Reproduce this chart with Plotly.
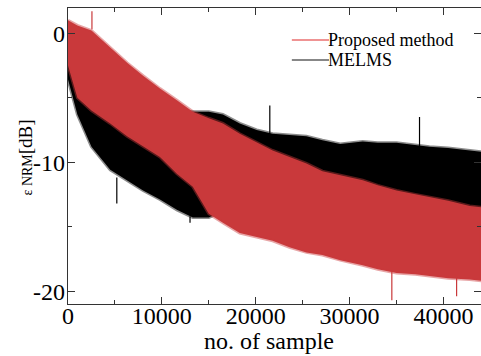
import plotly.graph_objects as go

# ---- data (envelopes of the noisy learning curves, dB) ----
samples = [0, 1000, 2500, 4500, 6300, 8000, 9800, 11600, 13300, 15000, 16500, 18300,
           20100, 21800, 23600, 25400, 27100, 29000, 31400, 33000, 35000, 37000,
           38500, 40500, 42800, 44000]

proposed_upper = [1.0, 0.6, 0.2, -1.1, -2.3, -3.3, -4.3, -5.2, -6.1, -6.6, -7.0, -7.8,
                  -8.5, -9.1, -9.6, -10.1, -10.7, -11.0, -11.4, -11.8, -12.2, -12.5,
                  -12.7, -13.0, -13.4, -13.5]
proposed_lower = [-2.5, -5.0, -6.0, -7.0, -8.0, -8.8, -9.6, -10.9, -11.9, -14.0, -14.7, -15.5,
                  -15.8, -16.1, -16.6, -17.0, -17.2, -17.6, -18.0, -18.3, -18.6, -18.7,
                  -18.8, -19.0, -19.1, -19.2]

melms_upper = [0.0, -2.0, -3.5, -4.8, -5.4, -5.7, -5.9, -6.0, -6.1, -6.1, -6.3, -7.0,
               -7.5, -7.8, -7.9, -8.0, -8.3, -8.6, -8.4, -8.5, -8.5, -8.7,
               -8.8, -8.9, -9.1, -9.2]
melms_lower = [-3.6, -6.3, -8.8, -10.6, -11.4, -12.2, -12.9, -13.7, -14.3, -14.3, -13.8, -13.8,
               -13.8, -13.8, -13.8, -13.8, -13.8, -13.8, -13.8, -13.8, -13.8, -13.8,
               -13.8, -13.8, -13.8, -13.8]

# isolated noise peaks that stand out of the bands (sample, peak dB, band edge dB)
melms_peak_x = [21500, 37450, 5200, 13000]
melms_peak_y = [-5.6, -6.5, -13.2, -14.7]
melms_peak_base = [-7.8, -8.8, -11.2, -14.2]

proposed_peak_x = [2550, 34500, 41400]
proposed_peak_y = [1.7, -20.7, -20.4]
proposed_peak_base = [0.3, -18.5, -18.9]

series_names = ["Proposed method", "MELMS"]

x_tickvals = [0, 10000, 20000, 30000, 40000]
x_ticktext = ["0", "10000", "20000", "30000", "40000"]
y_tickvals = [0, -10, -20]
y_ticktext = ["0", "-10", "-20"]

RED = "#c9393b"
RED_FRINGE = "rgba(201,57,59,0.45)"
BLACK = "#000000"
BLACK_FRINGE = "rgba(0,0,0,0.45)"
FONT = "Liberation Serif"

fig = go.Figure()


def band(xs, up, lo, color, fringe):
    return go.Scatter(
        x=list(xs) + list(xs[::-1]),
        y=list(up) + list(lo[::-1]),
        fill="toself", fillcolor=color, mode="lines",
        line=dict(width=3, color=fringe),
        hoverinfo="skip", showlegend=False)


def peaks(xs, ys, bases, color):
    px, py = [], []
    for x, y, b in zip(xs, ys, bases):
        px += [x, x, None]
        py += [b, y, None]
    return go.Scatter(x=px, y=py, mode="lines", line=dict(color=color, width=1.2),
                      hoverinfo="skip", showlegend=False)


fig.add_trace(band(samples, melms_upper, melms_lower, BLACK, BLACK_FRINGE))
fig.add_trace(peaks(melms_peak_x, melms_peak_y, melms_peak_base, BLACK))
fig.add_trace(band(samples, proposed_upper, proposed_lower, RED, RED_FRINGE))
fig.add_trace(peaks(proposed_peak_x, proposed_peak_y, proposed_peak_base, RED))

axis_common = dict(
    showline=True, linecolor="#333333", linewidth=1.4, mirror="ticks",
    ticks="inside", ticklen=7, tickwidth=1.4, tickcolor="#333333",
    showgrid=False, zeroline=False,
    tickfont=dict(family=FONT, size=24, color="black"),
)

fig.update_xaxes(
    range=[0, 44000], tickmode="array", tickvals=x_tickvals, ticktext=x_ticktext,
    minor=dict(ticks="inside", ticklen=4, dtick=5000, tickwidth=1.4, tickcolor="#333333"),
    ticklabelstandoff=-10,
    **axis_common)
fig.update_yaxes(
    range=[-21, 1.95], tickmode="array", tickvals=y_tickvals, ticktext=y_ticktext,
    minor=dict(ticks="inside", ticklen=4, dtick=5, tickwidth=1.4, tickcolor="#333333"),
    ticklabelstandoff=-3,
    **axis_common)

# axis titles
fig.add_annotation(xref="paper", yref="paper", x=(269 - 68) / 413, y=1 - (341 - 8) / 296,
                   text="no. of sample", showarrow=False, xanchor="center", yanchor="middle",
                   font=dict(family=FONT, size=24, color="black"))
fig.add_annotation(xref="paper", yref="paper", x=(37 - 68) / 413, y=1 - (158 - 8) / 296,
                   text='<span style="font-size:14px">ε NRM</span>[dB]', textangle=-90,
                   showarrow=False, xanchor="right", yanchor="middle",
                   font=dict(family=FONT, size=19, color="black"))

# legend drawn by hand (line samples + labels)
leg_px = [40, 60]
leg_colors = ["#e02828", "#111111"]
for name, py, col in zip(series_names, leg_px, leg_colors):
    yy = 1 - (py - 8) / 296
    fig.add_shape(type="line", xref="paper", yref="paper", x0=0.542, x1=0.632, y0=yy, y1=yy,
                  line=dict(color=col, width=1.2))
    fig.add_annotation(xref="paper", yref="paper", x=0.632, y=yy, text=name, showarrow=False,
                       xanchor="left", yanchor="middle", xshift=-2, borderpad=0,
                       font=dict(family=FONT, size=18, color="black"))

fig.update_layout(
    width=481, height=356,
    margin=dict(l=68, r=0, t=8, b=52),
    paper_bgcolor="white", plot_bgcolor="white",
    showlegend=False,
)

fig.write_html("out.html")
